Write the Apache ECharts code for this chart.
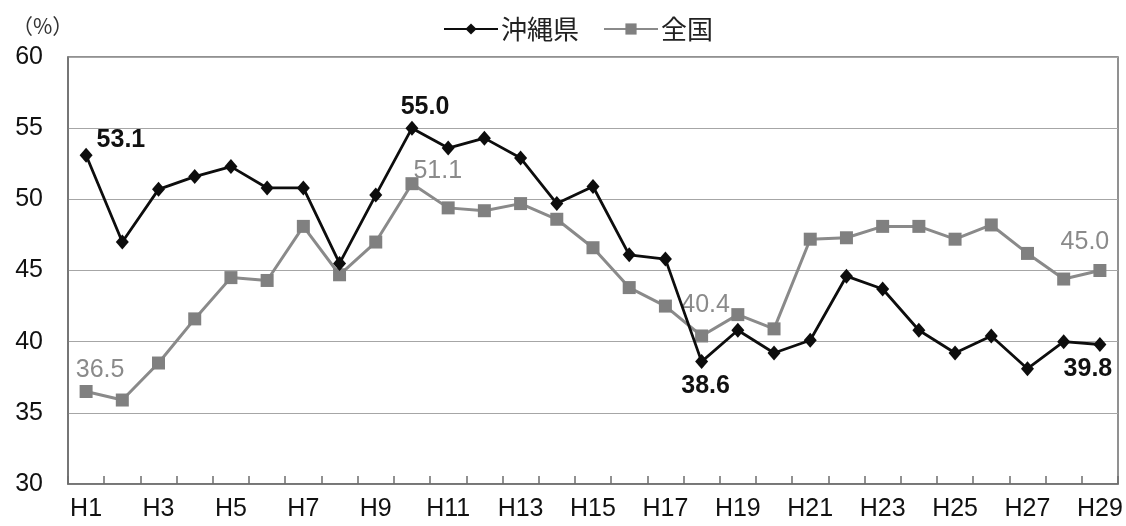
<!DOCTYPE html>
<html>
<head>
<meta charset="utf-8">
<script src="https://cdn.jsdelivr.net/npm/echarts@6/dist/echarts.min.js"></script>
<style>html,body{margin:0;padding:0;background:#fff}#c{width:1126px;height:526px}</style>
</head>
<body>
<div id="c"></div>
<script>
var categories = ['H1','H2','H3','H4','H5','H6','H7','H8','H9','H10','H11','H12','H13','H14','H15','H16','H17','H18','H19','H20','H21','H22','H23','H24','H25','H26','H27','H28','H29'];
var okinawa = [53.1,47.0,50.7,51.6,52.3,50.8,50.8,45.5,50.3,55.0,53.6,54.3,52.9,49.7,50.9,46.1,45.8,38.6,40.8,39.2,40.1,44.6,43.7,40.8,39.2,40.4,38.1,40.0,39.8];
var national = [36.5,35.9,38.5,41.6,44.5,44.3,48.1,44.7,47.0,51.1,49.4,49.2,49.7,48.6,46.6,43.8,42.5,40.4,41.9,40.9,47.2,47.3,48.1,48.1,47.2,48.2,46.2,44.4,45.0];
var yTicks = {min: 30, max: 60, interval: 5};

var FONT = '"Liberation Sans", Arial, "Noto Sans CJK JP", sans-serif';

function okLabel(i, v) {
  var cfg = {
    0: {position: 'right', offset: [-1, -15]},
    9: {position: 'top', offset: [13, 4]},
    17: {position: 'bottom', offset: [4, 0]},
    28: {position: 'bottom', offset: [-12, 0]}
  }[i];
  if (!cfg) return {value: v};
  return {value: v, label: {show: true, position: cfg.position, offset: cfg.offset,
    color: '#111', fontWeight: 'bold', fontSize: 25, fontFamily: FONT,
    formatter: function (p) { return p.value.toFixed(1); }}};
}
function natLabel(i, v) {
  var cfg = {
    0: {position: 'top', offset: [14, 3]},
    9: {position: 'right', offset: [-10, -13]},
    17: {position: 'top', offset: [4, -7]},
    28: {position: 'top', offset: [-15, -4]}
  }[i];
  if (!cfg) return {value: v};
  return {value: v, label: {show: true, position: cfg.position, offset: cfg.offset,
    color: '#8a8a8a', fontSize: 25, fontFamily: FONT,
    formatter: function (p) { return p.value.toFixed(1); }}};
}

var chart = echarts.init(document.getElementById('c'));
chart.setOption({
  animation: false,
  backgroundColor: '#fff',
  textStyle: {fontFamily: FONT},
  title: {text: '（%）', left: 12, top: 16, padding: 0,
    textStyle: {fontSize: 21, fontWeight: 'normal', color: '#333', fontFamily: '"Noto Sans CJK JP", sans-serif'}},
  grid: {left: 68, right: 8, top: 57, bottom: 42, show: true, borderColor: '#6e6e6e', borderWidth: 1.5, containLabel: false},
  legend: {
    top: 11, left: 438, itemWidth: 54, itemHeight: 14, itemGap: 24,
    textStyle: {fontSize: 26, color: '#222', fontFamily: '"Noto Sans CJK JP", sans-serif', padding: [0,0,0,-2]},
    data: ['沖縄県', '全国']
  },
  xAxis: {
    type: 'category', data: categories, boundaryGap: true,
    axisLine: {lineStyle: {color: '#6e6e6e', width: 1.5}},
    axisTick: {show: true, inside: true, length: 8, interval: 0, lineStyle: {color: '#6e6e6e', width: 1.5}},
    axisLabel: {interval: 1, fontSize: 25, color: '#111', margin: 13, fontFamily: FONT},
    splitLine: {show: false}
  },
  yAxis: {
    type: 'value', min: yTicks.min, max: yTicks.max, interval: yTicks.interval,
    axisLine: {show: true, lineStyle: {color: '#6e6e6e', width: 1.5}},
    axisTick: {show: false},
    axisLabel: {fontSize: 25, color: '#111', margin: 25, fontFamily: FONT},
    splitLine: {lineStyle: {color: '#a6a6a6', width: 1.2}}
  },
  series: [
    {
      name: '沖縄県', type: 'line', symbol: 'diamond', symbolSize: [13, 15],
      itemStyle: {color: '#0d0d0d'}, lineStyle: {color: '#0d0d0d', width: 2.8},
      data: okinawa.map(function (v, i) { return okLabel(i, v); }), z: 3
    },
    {
      name: '全国', type: 'line', symbol: 'rect', symbolSize: 13,
      itemStyle: {color: '#808080'}, lineStyle: {color: '#8a8a8a', width: 3},
      data: national.map(function (v, i) { return natLabel(i, v); }), z: 2
    }
  ]
});
</script>
</body>
</html>
